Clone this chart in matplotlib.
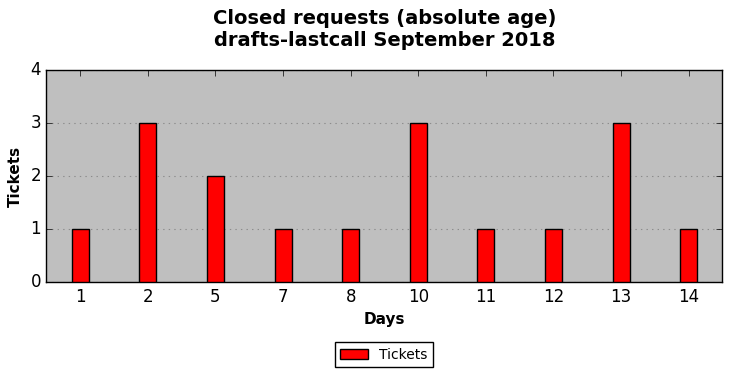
import matplotlib
matplotlib.use('Agg')
import matplotlib.pyplot as plt
import numpy as np

plt.style.use('classic')

days = ['1', '2', '5', '7', '8', '10', '11', '12', '13', '14']
tickets = [1, 3, 2, 1, 1, 3, 1, 1, 3, 1]

fig = plt.figure(figsize=(7.32, 3.78), dpi=100, facecolor='white')
ax = fig.add_axes([0.0635, 0.254, 0.9235, 0.5608])
ax.set_facecolor('#bfbfbf')

x = np.arange(len(days))
ax.bar(x, tickets, width=0.25, align='center', color='red', edgecolor='black',
       linewidth=1, label='Tickets', zorder=3)

ax.set_xlim(-0.5, len(days) - 0.5)
ax.set_ylim(0, 4)
ax.set_xticks(x)
ax.set_xticklabels(days, fontsize=12)
ax.set_yticks([0, 1, 2, 3, 4])
ax.tick_params(axis='y', labelsize=12)
ax.yaxis.grid(True, linestyle=':', color='#8c8c8c', linewidth=0.8, zorder=0)
ax.xaxis.grid(False)
ax.set_axisbelow(True)

ax.set_xlabel('Days', fontsize=11, fontweight='bold')
ax.set_ylabel('Tickets', fontsize=11, fontweight='bold')
ax.set_title('Closed requests (absolute age)\ndrafts-lastcall September 2018',
             fontsize=14, fontweight='bold', y=1.0, pad=17)

fig.legend(loc='center', bbox_to_anchor=(0.5246, 0.061), fontsize=10,
           frameon=True, fancybox=False)

plt.savefig('out.png', dpi=100, facecolor='white')
